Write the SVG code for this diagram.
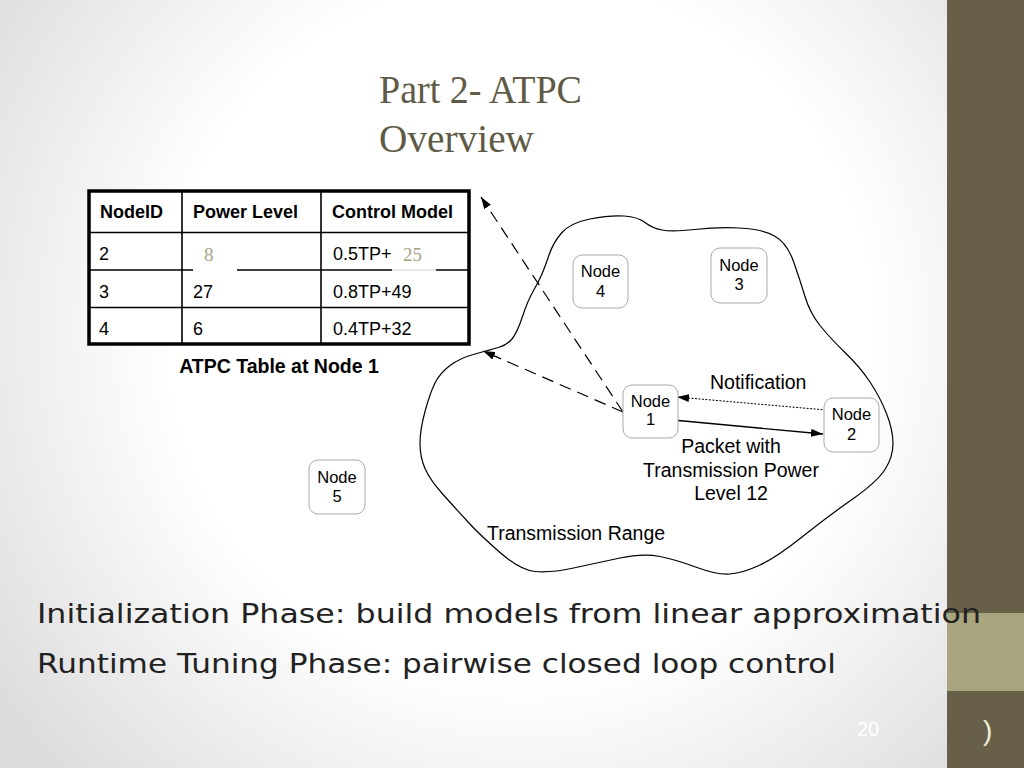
<svg xmlns="http://www.w3.org/2000/svg" width="1024" height="768" viewBox="0 0 1024 768">
<defs>
<radialGradient id="bg" cx="520" cy="330" r="640" gradientUnits="userSpaceOnUse">
<stop offset="0" stop-color="#ffffff"/>
<stop offset="0.55" stop-color="#ffffff"/>
<stop offset="1" stop-color="#dcdcdc"/>
</radialGradient>
<marker id="ah" viewBox="0 0 12 8" refX="12" refY="4" markerWidth="12" markerHeight="8" markerUnits="userSpaceOnUse" orient="auto">
<path d="M0,0 L12,4 L0,8 Z" fill="#000"/>
</marker>
<style>
.sans{font-family:"Liberation Sans",Arial,sans-serif;fill:#000}
.hdr{font-size:18px;font-weight:bold}
.cell{font-size:18px}
.ser{font-family:"Liberation Serif","Times New Roman",serif;font-size:19px;fill:#a5a386}
.node rect{fill:#fff;stroke:#a8a8a8;stroke-width:1}
.node text{font-family:"Liberation Sans",Arial,sans-serif;font-size:16.5px;text-anchor:middle;fill:#000}
.lbl{font-family:"Liberation Sans",Arial,sans-serif;font-size:19.5px;fill:#000}
.grid{stroke:#000;stroke-width:1.6}
.title{font-family:"Liberation Serif","Times New Roman",serif;font-size:39px;fill:#5f5a45}
.body{font-family:"DejaVu Sans","Open Sans",sans-serif;font-size:27px;fill:#222}
</style>
</defs>
<rect x="0" y="0" width="1024" height="768" fill="url(#bg)"/>
<rect x="947" y="0" width="77" height="768" fill="#675f48"/>
<rect x="947" y="613" width="77" height="78" fill="#a9a57e"/>

<text class="title" x="379" y="103" textLength="203" lengthAdjust="spacingAndGlyphs">Part 2- ATPC</text>
<text class="title" x="379" y="152" textLength="155" lengthAdjust="spacingAndGlyphs">Overview</text>

<g id="atpc-table">
<rect x="89" y="191" width="380" height="153" fill="#fff" stroke="#000" stroke-width="3.5"/>
<line class="grid" x1="182" y1="191" x2="182" y2="344"/>
<line class="grid" x1="321" y1="191" x2="321" y2="344"/>
<line class="grid" x1="89" y1="232.5" x2="469" y2="232.5"/>
<line class="grid" x1="89" y1="270" x2="193" y2="270"/>
<line class="grid" x1="237" y1="270" x2="392" y2="270"/>
<line x1="392" y1="270" x2="436" y2="270" stroke="#cfcfcf" stroke-width="1"/>
<line class="grid" x1="436" y1="270" x2="469" y2="270"/>
<line class="grid" x1="89" y1="307.5" x2="469" y2="307.5"/>
<text class="sans hdr" x="100" y="218">NodeID</text>
<text class="sans hdr" x="193" y="218">Power Level</text>
<text class="sans hdr" x="332" y="218">Control Model</text>
<text class="sans cell" x="99" y="260">2</text>
<text class="ser" x="204" y="261">8</text>
<text class="sans cell" x="333" y="260">0.5TP+</text>
<text class="ser" x="403" y="261">25</text>
<text class="sans cell" x="99" y="298">3</text>
<text class="sans cell" x="193" y="298">27</text>
<text class="sans cell" x="333" y="298">0.8TP+49</text>
<text class="sans cell" x="99" y="335">4</text>
<text class="sans cell" x="193" y="335">6</text>
<text class="sans cell" x="333" y="335">0.4TP+32</text>
<text class="sans" x="279" y="373" font-size="19.5" font-weight="bold" text-anchor="middle">ATPC Table at Node 1</text>
</g>

<g id="transmission-range">
<path d="M561.5,233 Q570,223 590,219 Q610,215 624,216 Q638,217 645,222.5 Q652,228 662,230 Q672,232 694.5,229.5 Q717,227 739.5,228 Q762,229 774.5,236 Q787,243 793.5,261.5 Q800,280 805,296.5 Q810,313 820,325.5 Q830,338 845,352.5 Q860,367 870,382 Q880,397 886.5,413.5 Q893,430 893,443.5 Q893,457 885,469.5 Q877,482 852,499.5 Q827,517 802,537 Q777,557 760,565 Q743,573 730,574 Q717,575 697,567.5 Q677,560 660,556.5 Q643,553 620,558 Q597,563 573.5,568 Q550,573 535,571.5 Q520,570 500,552.5 Q480,535 468.5,522.5 Q457,510 443.5,495 Q430,480 425,468.5 Q420,457 420,443.5 Q420,430 425,411.5 Q430,393 435,383 Q440,373 450,365.5 Q460,358 475,354 Q490,350 498.5,347.5 Q507,345 512,339 Q517,333 522.5,316.5 Q528,300 533,291.5 Q538,283 541.5,275 Q545,267 549,255 Q553,243 561.5,233 Z" fill="none" stroke="#000" stroke-width="1.2"/>
<text class="lbl" x="487" y="540">Transmission Range</text>
</g>

<g id="connectors" fill="none" stroke="#000">
<line x1="623" y1="412" x2="481" y2="197" stroke-width="1.2" stroke-dasharray="12 7" marker-end="url(#ah)"/>
<line x1="623" y1="412" x2="483" y2="351" stroke-width="1.2" stroke-dasharray="12 7" marker-end="url(#ah)"/>
<line x1="673" y1="420" x2="823" y2="434" stroke-width="1.3" marker-end="url(#ah)"/>
<line x1="826" y1="410" x2="677" y2="397" stroke-width="1" stroke-dasharray="2 1.5" marker-end="url(#ah)"/>
</g>

<g id="labels">
<text class="lbl" x="710" y="389">Notification</text>
<text class="lbl" x="731" y="453" text-anchor="middle">Packet with</text>
<text class="lbl" x="731" y="477" text-anchor="middle">Transmission Power</text>
<text class="lbl" x="731" y="500" text-anchor="middle">Level 12</text>
</g>

<g id="node4" class="node"><rect x="573" y="255" width="55" height="53" rx="9"/><text x="600.5" y="277">Node</text><text x="600.5" y="297">4</text></g>
<g id="node3" class="node"><rect x="711" y="248" width="56" height="55" rx="9"/><text x="739" y="271">Node</text><text x="739" y="290">3</text></g>
<g id="node1" class="node"><rect x="623" y="385" width="55" height="53" rx="9"/><text x="650.5" y="407">Node</text><text x="650.5" y="425">1</text></g>
<g id="node2" class="node"><rect x="824" y="398" width="55" height="54" rx="9"/><text x="851.5" y="420">Node</text><text x="851.5" y="440">2</text></g>
<g id="node5" class="node"><rect x="309" y="460" width="56" height="54" rx="9"/><text x="337" y="483">Node</text><text x="337" y="502">5</text></g>

<text class="body" x="37" y="623" textLength="944" lengthAdjust="spacingAndGlyphs">Initialization Phase: build models from linear approximation</text>
<text class="body" x="37" y="673" textLength="799" lengthAdjust="spacingAndGlyphs">Runtime Tuning Phase: pairwise closed loop control</text>

<text x="857" y="736" font-family="Liberation Sans, Arial, sans-serif" font-size="20" fill="#ffffff">20</text>
<text x="983" y="740" font-family="Liberation Sans, Arial, sans-serif" font-size="28" fill="#f3eed8">)</text>
</svg>
